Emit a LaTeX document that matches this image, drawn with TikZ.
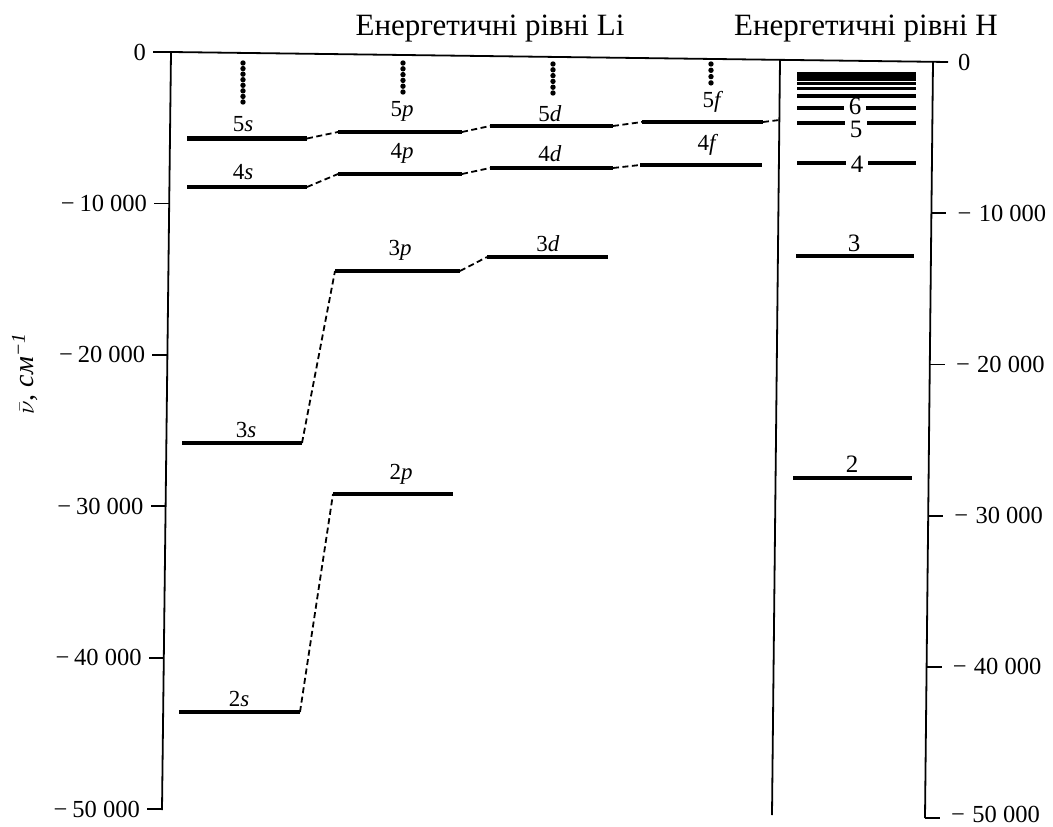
\documentclass[tikz,border=0pt]{standalone}
\usepackage{fontspec}
\setmainfont{Liberation Serif}
\begin{document}
\begin{tikzpicture}[x=1pt,y=-1pt,
  lvl/.style={line width=4.5pt},
  hlvl/.style={line width=4pt},
  hthin/.style={line width=3pt},
  conn/.style={line width=1.8pt, dash pattern=on 6pt off 3.5pt},
  axisline/.style={line width=1.8pt},
  ticklbl/.style={font=\fontsize{24.5}{28}\selectfont, inner sep=0pt},
  lbl/.style={font=\fontsize{23}{26}\selectfont, inner sep=0pt, anchor=south},
  hlbl/.style={font=\fontsize{25}{28}\selectfont, inner sep=0pt},
  hlblgap/.style={hlbl, fill=white, inner xsep=5pt, inner ysep=0pt},
  ttl/.style={font=\fontsize{31}{36}\selectfont, inner sep=0pt, anchor=base},
  dotm/.style={circle, fill, inner sep=0pt, minimum size=5.4pt}
]
\useasboundingbox (0,0) rectangle (1053,827);

% titles
\node[ttl] (tLi) at (490,35) {Енергетичні рівні Li};
\node[ttl] (tH) at (866,35) {Енергетичні рівні H};

% axes
\coordinate (LT) at (153,52);
\coordinate (LA0) at (171,52);
\coordinate (LA5) at (162,810);
\coordinate (RA0) at (933,62);
\coordinate (RA5) at (925,818);
\coordinate (TR) at (948,62);
\coordinate (DV0) at (780,60);
\coordinate (DV1) at (772,815);
\draw[axisline] (LT) -- (LA0) -- (TR);
\draw[axisline] (LA0) -- (LA5);
\draw[axisline] (RA0) -- (RA5);
\draw[axisline] (DV0) -- (DV1);

% tick labels for 0
\node[ticklbl, anchor=east] (l0) at (146,52) {0};
\node[ticklbl, anchor=west] (r0) at (958,62) {0};

\foreach \i/\t in {1/10,2/20,3/30,4/40,5/50}{
  \coordinate (lt\i) at ({171-1.8*\i},{52+151.4*\i});
  \coordinate (ltt\i) at ({156-1.8*\i},{52+151.4*\i});
  \draw[axisline] (lt\i) -- (ltt\i);
  \node[ticklbl, anchor=east] (ll\i) at ({149-1.8*\i},{52+151.4*\i}) {−\hspace{0.2em}\t\hspace{0.25em}000};
  \coordinate (rt\i) at ({933-1.6*\i},{62+151.2*\i});
  \coordinate (rtt\i) at ({948-1.6*\i},{62+151.2*\i});
  \draw[axisline] (rt\i) -- (rtt\i);
}
\foreach \i/\t/\yy in {1/10/213.2,2/20/364.4,3/30/515.6,4/40/666.8,5/50/814}{
  \node[ticklbl, anchor=west] (rl\i) at ({959-1.6*\i},\yy) {−\hspace{0.3em}\t\hspace{0.25em}000};
}

% axis label
\node[rotate=90, font=\fontsize{28}{32}\selectfont, inner sep=0pt] (ylab) at (25,374)
  {$\bar{\nu}$, \textit{см}\textsuperscript{\textit{−1}}};

% Li levels
\foreach \n/\xa/\xb/\y in {5s/187/307/138.5, 4s/187/307/187, 3s/182/302/443, 2s/179/300/712,
  5p/338/462/132, 4p/338/462/174, 3p/335/460/271, 2p/333/453/494,
  5d/490/613/126, 4d/490/613/168, 3d/487/608/257,
  5f/642/763/122, 4f/640/762/165}{
  \coordinate (L\n) at (\xa,\y);
  \coordinate (R\n) at (\xb,\y);
  \draw[lvl] (L\n) -- (R\n);
}
\coordinate (DV5) at (779.5,120);

% connectors
\draw[conn] (R5s) -- (L5p);
\draw[conn] (R5p) -- (L5d);
\draw[conn] (R5d) -- (L5f);
\draw[conn] (R5f) -- (DV5);
\draw[conn] (R4s) -- (L4p);
\draw[conn] (R4p) -- (L4d);
\draw[conn] (R4d) -- (L4f);
\draw[conn] (R3s) -- (L3p);
\draw[conn] (R3p) -- (L3d);
\draw[conn] (R2s) -- (L2p);

% Li labels
\node[lbl] (n5s) at (243,132) {5\textit{s}};
\node[lbl] (n4s) at (243,180) {4\textit{s}};
\node[lbl] (n3s) at (246,438) {3\textit{s}};
\node[lbl] (n2s) at (239,707) {2\textit{s}};
\node[lbl] (n5p) at (402,122) {5\textit{p}};
\node[lbl] (n4p) at (402,164) {4\textit{p}};
\node[lbl] (n3p) at (400,261) {3\textit{p}};
\node[lbl] (n2p) at (401,485) {2\textit{p}};
\node[lbl] (n5d) at (550,122) {5\textit{d}};
\node[lbl] (n4d) at (550,162) {4\textit{d}};
\node[lbl] (n3d) at (548,252) {3\textit{d}};
\node[lbl] (n5f) at (713,113) {5\textit{f}};
\node[lbl] (n4f) at (708,156) {4\textit{f}};

% dot columns
\foreach \k in {0,...,7}{ \node[dotm] (ds\k) at (243,{63+5.57*\k}) {}; }
\foreach \k in {0,...,5}{ \node[dotm] (dp\k) at (403,{63+5.8*\k}) {}; }
\foreach \k in {0,...,5}{ \node[dotm] (dd\k) at (553,{64+5.8*\k}) {}; }
\foreach \k in {0,...,3}{ \node[dotm] (df\k) at (711,{64+6.3*\k}) {}; }

% H levels
\foreach \n/\xa/\xb/\y in {2/793/912/478, 3/796/914/256, 4/797/916/163, 5/797/916/123, 6/797/916/108, 7/797/916/96}{
  \coordinate (HL\n) at (\xa,\y);
  \coordinate (HR\n) at (\xb,\y);
  \draw[hlvl] (HL\n) -- (HR\n);
}
\foreach \n/\y in {8/88.5, 9/83.5, 10/79.5, 11/76, 12/73}{
  \coordinate (HL\n) at (797,\y);
  \coordinate (HR\n) at (916,\y);
  \draw[hthin] (HL\n) -- (HR\n);
}
\node[hlbl, anchor=south] (h3) at (854,252) {3};
\node[hlbl, anchor=south] (h2) at (852,473) {2};
\node[hlblgap] (h4) at (857,164.5) {4};
\node[hlblgap] (h5) at (856,129.5) {5};
\node[hlblgap] (h6) at (855,106.5) {6};
\end{tikzpicture}
\end{document}
